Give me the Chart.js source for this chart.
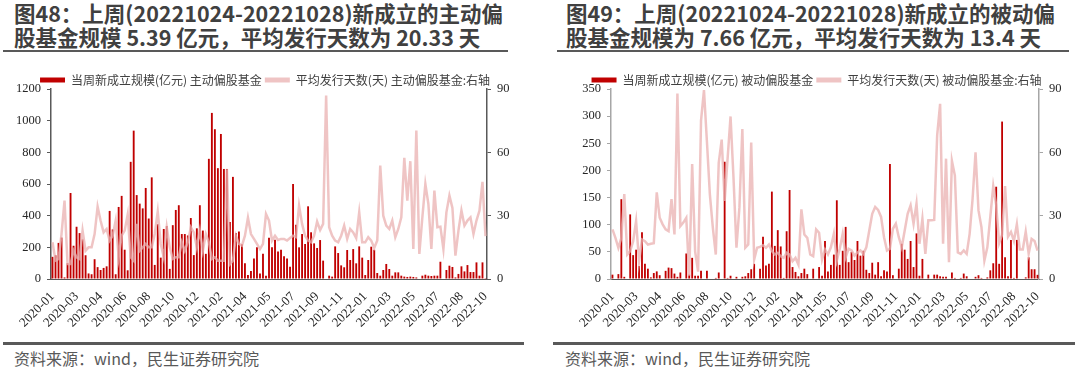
<!DOCTYPE html>
<html>
<head>
<meta charset="utf-8">
<script src="https://cdn.jsdelivr.net/npm/chart.js@4.4.1/dist/chart.umd.min.js"></script>
<style>
  body { margin: 0; width: 1080px; height: 371px; background: #fff; position: relative; overflow: hidden; font-family: "Noto Sans CJK SC", sans-serif; }
  .title { position: absolute; top: 1px; font-size: 21.5px; font-weight: bold; line-height: 23.5px; color: #404040; white-space: nowrap; }
  .rule { position: absolute; background: #595959; }
  .src { position: absolute; top: 347px; font-size: 16px; line-height: 22px; color: #595959; white-space: nowrap; }
  canvas { position: absolute; top: 71px; }
</style>
</head>
<body>
<div class="title" style="left:14px">图48：上周(20221024-20221028)新成立的主动偏<br>股基金规模 5.39 亿元，平均发行天数为 20.33 天</div>
<div class="rule" style="left:3px;width:505px;top:50px;height:2px"></div>
<canvas id="activeChart" width="530" height="265" style="left:0"></canvas>
<div class="rule" style="left:3px;width:521px;top:342px;height:2.5px"></div>
<div class="src" style="left:14px">资料来源：wind，民生证券研究院</div>

<div class="title" style="left:566px">图49：上周(20221024-20221028)新成立的被动偏<br>股基金规模为 7.66 亿元，平均发行天数为 13.4 天</div>
<div class="rule" style="left:557px;width:512px;top:50px;height:2px"></div>
<canvas id="passiveChart" width="527" height="265" style="left:553px"></canvas>
<div class="rule" style="left:553px;width:522px;top:342px;height:2.5px"></div>
<div class="src" style="left:565px">资料来源：wind，民生证券研究院</div>

<script>
// x-axis labels, one every 8 weeks
const tickLabels = ['2020-01', '2020-03', '2020-04', '2020-06', '2020-08', '2020-10', '2020-12',
    '2021-02', '2021-04', '2021-05', '2021-07', '2021-09', '2021-11', '2022-01', '2022-03',
    '2022-05', '2022-07', '2022-08', '2022-10'];
const tickStep = 8;

// 主动偏股基金: weekly new fund size (亿元)
const activeScale = [
    140, 150, 228, 262, 10, 100, 543, 210, 330, 290,
    250, 150, 35, 30, 125, 75, 57, 70, 80, 430,
    313, 30, 455, 525, 185, 55, 740, 937, 530, 476,
    446, 575, 382, 642, 89, 346, 135, 316, 334, 64,
    340, 436, 466, 284, 284, 275, 385, 151, 320, 466,
    306, 159, 759, 1049, 946, 700, 916, 695, 695, 360,
    645, 290, 300, 220, 100, 25, 50, 130, 200, 35,
    160, 20, 260, 200, 248, 173, 185, 143, 130, 78,
    600, 343, 200, 284, 221, 459, 295, 225, 196, 246,
    116, 0, 21, 15, 206, 164, 86, 74, 183, 120,
    189, 99, 206, 135, 25, 120, 204, 185, 38, 21,
    57, 95, 63, 21, 42, 42, 21, 15, 13, 15,
    13, 10, 0, 21, 27, 21, 19, 21, 21, 109,
    0, 57, 84, 76, 10, 32, 80, 48, 88, 44,
    44, 105, 21, 105, 5.39
];
// 主动偏股基金: average issuing days (right axis)
const activeDays = [
    17.4, 8.7, 9.5, 21.3, 37.1, 7.1, 7.1, 13.4, 10.3, 9.5,
    22.9, 13.4, 15, 15, 21.3, 34.3, 27.6, 22.1, 23.7, 18.2,
    20.5, 27.6, 10.3, 20.5, 22.9, 30.5, 10.3, 8.7, 26.1, 13.4,
    15, 16.6, 15, 15, 21.3, 31.9, 16.6, 10.3, 24.5, 15,
    9.5, 10.3, 10.3, 17.4, 13.4, 17.4, 24.5, 22.1, 15, 22.9,
    13.4, 21.3, 17.4, 9.5, 10.3, 8.7, 8.7, 8.7, 52, 7,
    8.7, 20.5, 16.6, 15.8, 20.5, 29, 21.3, 19, 16.6, 14.2,
    16.6, 30.8, 27.7, 18.2, 20.5, 18.5, 19, 19, 18.2, 19.4,
    20.5, 19.8, 34.8, 26.1, 20.5, 18.2, 17.4, 20.5, 27.2, 23.2,
    26.1, 86.9, 24.5, 20.5, 18.2, 17.4, 20.5, 25.3, 19, 23.7,
    22.1, 19.4, 31.6, 17.4, 17.4, 19.8, 18.2, 14.7, 18.2, 53.7,
    30, 25.3, 23.7, 27.7, 19.8, 23.7, 29.2, 57.4, 37.1, 55.8,
    14.2, 70.3, 11.9, 29.2, 45, 35.6, 14.2, 41.9, 24.5, 24.8,
    14.2, 31.6, 39.5, 33.7, 11.1, 22.9, 32.4, 25.3, 27.7, 29.2,
    21.3, 27.7, 32.4, 46, 20.33
];

// 被动偏股基金: weekly new fund size (亿元)
const passiveScale = [
    8, 0, 9, 147, 4, 0, 119, 44, 54, 24,
    86, 28, 19, 3, 11, 14, 7, 0, 15, 21,
    20, 10, 4, 12, 0, 47, 8, 39, 6, 6,
    15, 0, 15, 0, 0, 2, 12, 0, 216, 2,
    6, 0, 4, 0, 4, 5, 11, 18, 28, 0,
    19, 78, 25, 28, 161, 61, 90, 60, 2, 88,
    164, 22, 13, 5, 11, 19, 9, 0, 19, 0,
    22, 6, 70, 14, 26, 45, 145, 26, 52, 96,
    31, 50, 35, 70, 43, 52, 17, 11, 30, 8,
    31, 5, 16, 14, 212, 7, 0, 19, 65, 54,
    37, 70, 22, 84, 6, 37, 0, 8, 0, 8,
    8, 5, 4, 4, 0, 12, 2, 0, 2, 10,
    5, 0, 0, 4, 7, 2, 0, 3, 16, 29,
    170, 28, 290, 40, 5, 72, 2, 72, 0, 0,
    3, 40, 18, 18, 7.66
];
// 被动偏股基金: average issuing days (right axis)
const passiveDays = [
    23.5, 19.5, 14.8, 19.5, 40.2, 11.6, 13.2, 17.9, 27.5, 8.4,
    18.7, 17.9, 16.3, 16.7, 17, 41, 29, 25.9, 23.5, 22.7,
    37.8, 21.1, 87.8, 25, 26.7, 29, 1.5, 54.4, 13, 3.5,
    75, 89.5, 65, 40, 24.3, 11.6, 55, 66, 37, 57,
    77, 48, 14.8, 33.8, 71, 14.8, 16.3, 64.7, 9.2, 14.8,
    15.2, 16, 14.8, 16.3, 13.2, 11.6, 12.4, 10.8, 10, 12.4,
    11.6, 8.4, 10, 6.8, 33, 21.1, 19.5, 11.6, 10.8, 23.5,
    21.9, 9.2, 14, 11.6, 15, 21.4, 8.7, 14.3, 21.4, 10.3,
    14.3, 13.5, 11.1, 12.6, 13.5, 11.9, 15, 23, 30.9, 34.1,
    32.7, 29.4, 19.8, 13.5, 14.3, 23.8, 26.2, 19.8, 15, 23,
    30.9, 34.9, 26.2, 35.7, 16.7, 28.5, 11.9, 27.8, 27.8, 28,
    68, 83, 16.7, 57, 7.9, 56, 49, 12.6, 11.9, 13.5,
    11.9, 21.4, 38, 60, 32.5, 24.6, 8.7, 15, 29.4, 44,
    35, 17, 21, 44, 20, 22.3, 18, 26, 14, 14,
    22.4, 12, 19, 18, 13.4
];

const weeks = activeScale.map((_, i) => i % tickStep === 0 ? tickLabels[i / tickStep] : '');

// shrink the legend box so the plot starts right under it
const legendTrim = {
    id: 'legendTrim',
    afterInit(chart) {
        const fit = chart.legend.fit;
        chart.legend.fit = function() {
            fit.call(this);
            this.height -= 7;
        };
    }
};

const serif = { family: '"Liberation Serif", serif', size: 12.5 };

function buildChart(id, o) {
    const ctx = document.getElementById(id).getContext('2d');
    return new Chart(ctx, {
        type: 'bar',
        data: {
            labels: weeks,
            datasets: [
                {
                    type: 'bar',
                    label: o.barLabel,
                    data: o.bars,
                    backgroundColor: '#c00000',
                    borderWidth: 0,
                    barPercentage: 0.62,
                    categoryPercentage: 1,
                    yAxisID: 'y',
                    order: 2
                },
                {
                    type: 'line',
                    label: o.lineLabel,
                    data: o.days,
                    borderColor: 'rgba(234, 176, 176, 0.75)',
                    backgroundColor: 'rgba(234, 176, 176, 0.75)',
                    borderWidth: 2.5,
                    pointRadius: 0,
                    tension: 0,
                    yAxisID: 'y1',
                    order: 1
                }
            ]
        },
        options: {
            responsive: false,
            animation: false,
            layout: { padding: 0 },
            plugins: {
                legend: {
                    position: 'top',
                    labels: {
                        boxWidth: 25,
                        boxHeight: 5,
                        padding: 3,
                        color: '#404040',
                        font: { family: '"Noto Sans CJK SC"', size: 12 },
                        sort: (a, b) => a.datasetIndex - b.datasetIndex,
                        generateLabels: chart => Chart.defaults.plugins.legend.labels.generateLabels(chart)
                            .map(item => ({ ...item, lineWidth: 0 }))
                    }
                },
                tooltip: { enabled: false }
            },
            scales: {
                x: {
                    grid: { display: false },
                    border: { color: '#595959', width: 1 },
                    ticks: {
                        autoSkip: false,
                        minRotation: 45,
                        maxRotation: 45,
                        padding: 2,
                        color: '#262626',
                        font: { family: '"Liberation Serif", serif', size: 13 }
                    },
                    afterFit: s => { s.height = 57; }
                },
                y: {
                    position: 'left',
                    min: 0,
                    max: o.max,
                    grid: { drawOnChartArea: false, tickLength: 4, color: o.axisColor },
                    border: { color: o.axisColor, width: 1.5 },
                    ticks: { stepSize: o.step, padding: 6, color: '#262626', font: serif, callback: v => String(v) },
                    afterFit: s => { s.width = o.leftW; }
                },
                y1: {
                    position: 'right',
                    min: 0,
                    max: 90,
                    grid: { drawOnChartArea: false, tickLength: 4, color: o.axisColor },
                    border: { color: o.axisColor, width: 1.5 },
                    ticks: { stepSize: 30, padding: 6, color: '#262626', font: serif, callback: v => String(v) },
                    afterFit: s => { s.width = o.rightW; }
                }
            }
        },
        plugins: [legendTrim]
    });
}

buildChart('activeChart', {
    barLabel: '当周新成立规模(亿元) 主动偏股基金',
    lineLabel: '平均发行天数(天) 主动偏股基金:右轴',
    bars: activeScale,
    days: activeDays,
    max: 1200,
    step: 200,
    axisColor: '#595959',
    leftW: 51,
    rightW: 43
});

buildChart('passiveChart', {
    barLabel: '当周新成立规模(亿元) 被动偏股基金',
    lineLabel: '平均发行天数(天) 被动偏股基金:右轴',
    bars: passiveScale,
    days: passiveDays,
    max: 350,
    step: 50,
    axisColor: '#a6a6a6',
    leftW: 58,
    rightW: 41
});
</script>
</body>
</html>
